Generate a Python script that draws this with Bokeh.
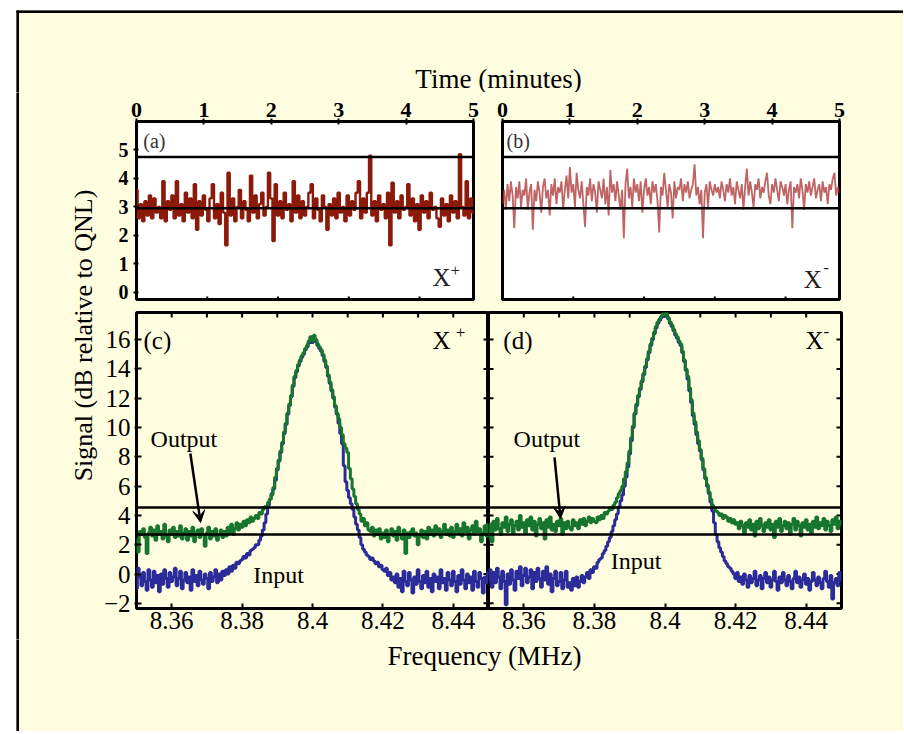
import numpy as np
from bokeh.plotting import figure
from bokeh.models import (LinearAxis, FixedTicker, Range1d, Arrow, VeeHead, Label,
                          Span, CustomJSTickFormatter)
from bokeh.layouts import row, column
from bokeh.embed import file_html
from bokeh.resources import INLINE

BG = "#FFFDDF"
FONT = "Liberation Serif"
RED_A = "#8C1A0A"
RED_B = "#B03C3C"
GREEN = "#17752E"
BLUE = "#2B2B99"

# ---------------- data ----------------
time_ticks = [0, 1, 2, 3, 4, 5]
time_minor_ticks = [0, 1.05, 2.1, 3.15, 4.2]
top_y_ticks = [0, 1, 2, 3, 4, 5]
top_levels = [2.95, 4.75]

sig_a = [3.6, 2.6, 3.1, 2.5, 3.2, 2.7, 3.4, 2.6, 3.3, 2.8,
         3.0, 2.6, 3.9, 2.5, 3.2, 2.9, 3.4, 2.6, 3.9, 2.7,
         3.1, 2.5, 3.5, 2.8, 3.3, 2.6, 3.8, 2.2, 3.2, 2.7,
         3.4, 2.9, 2.5, 3.3, 3.8, 2.6, 3.1, 2.4, 3.5, 2.8,
         1.65, 4.2, 2.7, 3.3, 2.5, 3.0, 3.6, 2.6, 3.2, 2.9,
         2.5, 4.1, 2.8, 3.4, 2.6, 3.1, 3.5, 2.7, 3.0, 4.2,
         3.3, 1.8, 3.8, 2.7, 3.2, 2.6, 3.5, 2.9, 3.1, 2.5,
         3.9, 2.8, 3.4, 2.6, 3.2, 2.7, 3.0, 3.5, 3.8, 2.6,
         3.3, 2.9, 2.5, 3.4, 3.0, 2.2, 3.1, 2.7, 3.3, 2.6,
         3.5, 2.8, 3.0, 2.5, 3.4, 2.7, 3.2, 2.9, 3.5, 3.9,
         2.6, 3.3, 2.8, 3.5, 4.8, 2.7, 3.2, 2.5, 3.4, 2.9,
         3.1, 2.6, 3.5, 1.65, 3.85, 2.8, 3.2, 2.6, 3.4, 2.9,
         3.0, 3.8, 2.7, 3.3, 2.5, 3.1, 2.2, 3.4, 2.8, 3.2,
         2.6, 3.5, 2.9, 3.0, 2.6, 2.3, 3.3, 2.7, 3.1, 2.5,
         3.4, 2.8, 3.2, 2.6, 4.85, 3.0, 2.7, 3.9, 2.6, 3.3,
         2.8]

sig_b = [3.1, 3.6, 2.9, 3.8, 3.2, 3.9, 3.4, 2.25, 3.7, 3.3,
         3.9, 3.0, 3.6, 3.4, 4.0, 2.9, 3.5, 3.8, 2.2, 3.6,
         3.2, 3.9, 3.5, 2.8, 3.7, 4.0, 3.3, 3.6, 2.7, 3.8,
         3.4, 4.0, 3.1, 3.7, 3.5, 3.9, 2.9, 3.6, 4.1, 3.3,
         4.4, 3.5, 3.8, 3.0, 4.2, 3.6, 3.3, 3.9, 3.1, 2.3,
         3.7, 3.4, 4.0, 3.2, 3.8, 3.5, 2.8, 3.9, 3.6, 3.3,
         4.0, 3.1, 3.7, 2.7, 4.3, 3.5, 3.8, 3.2, 3.9, 3.4,
         2.9, 3.6, 1.9, 3.8, 4.35, 3.3, 3.7, 3.0, 4.0, 3.5,
         3.8, 3.2, 3.9, 2.8, 3.6, 4.0, 3.4, 3.7, 3.1, 3.9,
         3.5, 3.8, 3.2, 2.1, 3.7, 3.4, 4.2, 3.6, 3.0, 3.8,
         3.5, 2.6, 3.9, 3.3, 3.7, 3.6, 4.0, 3.2, 3.8, 3.5,
         3.9, 3.3, 3.6, 3.8, 4.5, 3.4, 3.7, 3.1, 3.6, 1.9,
         3.5, 3.8, 3.0, 3.9, 3.6, 3.4, 3.8, 3.5, 3.7, 3.3,
         3.9, 3.6, 3.2, 3.8, 3.5, 4.0, 3.4, 3.7, 3.1, 3.9,
         3.6, 3.3, 3.8, 2.9, 3.7, 4.35, 3.4, 3.9, 3.5, 3.0,
         3.8, 3.6, 4.0, 3.3, 3.7, 3.5, 3.9, 4.2, 3.4, 3.1,
         3.8, 3.5, 4.0, 3.6, 3.2, 3.9, 3.7, 3.4, 3.8, 3.1,
         3.6, 3.9, 2.25, 3.7, 3.5, 3.8, 3.3, 4.0, 3.6, 2.9,
         3.8, 3.5, 3.9, 3.4, 3.7, 4.0, 3.3, 3.6, 3.8, 3.2,
         3.9, 3.5, 3.7, 3.1, 3.8, 3.6, 4.0, 4.2, 3.4, 3.7,
         3.5]

freq_ticks = [8.36, 8.38, 8.4, 8.42, 8.44]
freq_minor_ticks = [8.35, 8.36, 8.37, 8.38, 8.39, 8.40, 8.41, 8.42, 8.43, 8.44, 8.45]
bottom_y_ticks = [-2, 0, 2, 4, 6, 8, 10, 12, 14, 16]
bottom_levels = [2.7, 4.55]

out_c = [2.4, 1.5, 2.9, 2.7, 3.1, 2.5, 1.4, 2.8, 3.2, 2.6,
         3.0, 2.3, 3.3, 2.7, 2.9, 2.4, 3.4, 2.6, 2.2, 3.0,
         2.7, 3.2, 2.5, 2.9, 2.6, 3.3, 2.4, 2.8, 3.1, 2.3,
         2.9, 2.6, 3.2, 2.2, 2.8, 3.0, 2.5, 3.1, 2.7, 1.9,
         2.8, 3.2, 2.4, 2.9, 2.6, 3.1, 2.3, 2.7, 3.0, 2.5,
         2.9, 2.6, 3.2, 2.8, 3.4, 2.7, 3.1, 3.5, 3.0, 3.4,
         3.2, 3.6, 3.3, 3.7, 3.5, 3.9, 3.6, 3.8, 4.0, 3.8,
         4.2, 4.1, 4.4, 4.6, 4.5, 4.9, 5.1, 5.4, 5.9, 6.6,
         7.2, 7.8, 8.4, 9.0, 9.7, 10.3, 11.0, 11.6, 12.2, 12.9,
         13.5, 13.9, 14.3, 14.6, 14.9, 15.1, 15.4, 15.6, 15.9, 16.2,
         15.9, 16.3, 16.0, 15.7, 15.5, 15.3, 15.0, 14.6, 14.2, 13.6,
         13.1, 12.6, 12.1, 11.5, 11.0, 10.6, 10.0, 9.5, 8.9, 8.6,
         8.3, 7.2, 6.5, 5.8, 5.3, 4.8, 4.4, 4.1, 3.6, 3.8,
         3.3, 3.5, 3.0, 2.9, 3.2, 2.6, 3.0, 2.7, 3.1, 2.4,
         2.8, 2.5, 3.0, 2.2, 2.7, 3.1, 2.6, 2.9, 2.3, 3.2,
         2.7, 2.4, 3.0, 1.4, 2.8, 2.5, 2.9, 3.1, 2.6, 2.8,
         2.0, 2.6, 3.0, 2.5, 2.9, 2.4, 3.2, 2.7, 3.0, 2.6,
         3.3, 2.8, 3.1, 2.5, 2.9, 3.4, 2.7, 3.0, 2.6, 3.2,
         2.5, 2.9, 3.4, 2.8, 3.1, 2.6, 3.5, 2.9, 3.2, 2.4,
         3.0, 3.3, 2.7, 3.6, 2.9, 3.1, 2.2, 2.8, 3.3, 2.6,
         3.4]

in_c = [-1.0, 0.4, -0.2, -0.8, 0.1, -0.5, -1.1, 0.3, -0.4, -0.9,
        0.2, -0.6, -0.1, -1.2, 0.0, -0.7, 0.3, -0.3, -0.9, 0.1,
        -0.5, -0.2, 0.4, -0.8, -0.3, 0.2, -1.0, -0.4, 0.1, -0.6,
        -0.2, -1.1, 0.3, -0.5, -0.1, -0.8, 0.2, -0.4, -0.7, 0.0,
        -0.3, -1.0, 0.1, -0.5, -0.2, 0.3, -0.6, 0.0, -0.4, 0.2,
        -0.1, 0.3, 0.0, 0.5, 0.2, 0.6, 0.4, 0.8, 0.7, 0.9,
        1.0, 1.2, 1.1, 1.4, 1.3, 1.6, 1.7, 1.8, 2.0, 2.0,
        2.3, 2.6, 3.0, 3.5, 4.1, 4.7, 5.1, 5.5, 5.8, 6.4,
        7.1, 7.7, 8.3, 8.9, 9.6, 10.2, 10.9, 11.5, 12.1, 12.8,
        13.4, 13.8, 14.2, 14.5, 14.8, 15.0, 15.3, 15.5, 15.8, 16.0,
        15.8, 16.1, 15.9, 15.6, 15.4, 15.2, 14.9, 14.5, 14.1, 13.5,
        13.0, 12.5, 12.0, 11.4, 10.9, 10.3, 9.6, 8.9, 7.4, 6.3,
        5.7, 5.2, 4.8, 4.4, 3.9, 3.4, 3.0, 2.5, 2.0, 1.7,
        1.5, 1.3, 1.2, 1.0, 1.1, 0.9, 0.7, 0.8, 0.5, 0.6,
        0.3, 0.2, 0.4, -0.1, 0.1, -0.4, -0.2, -0.6, 0.0, -0.9,
        -0.3, -1.2, 0.2, -0.5, -0.8, 0.1, -0.4, -1.3, -0.2, -0.7,
        0.3, -0.5, -1.0, -0.1, -0.6, 0.2, -0.9, -0.3, -1.2, 0.0,
        -0.5, -0.2, -1.0, 0.3, -0.6, -0.3, -1.1, 0.1, -0.4, -0.8,
        0.2, -0.5, -1.2, -0.1, -0.7, 0.3, -0.4, -1.0, 0.0, -0.6,
        -0.2, -1.1, 0.2, -0.5, -0.9, 0.1, -0.3, -1.3, -0.2, -0.6,
        0.1]

out_d = [2.5, 3.4, 2.2, 3.6, 3.0, 3.8, 3.1, 2.7, 3.5, 3.2,
         3.9, 2.9, 3.4, 3.7, 2.8, 3.3, 3.6, 3.0, 4.0, 3.2,
         3.5, 2.8, 3.7, 3.3, 3.9, 3.0, 3.6, 2.6, 3.4, 3.8,
         3.1, 3.5, 2.4, 3.7, 3.2, 3.9, 3.0, 3.4, 2.9, 3.6,
         3.3, 3.8, 2.7, 3.5, 3.1, 3.6, 3.2, 3.0, 3.7, 3.3,
         3.5, 3.1, 3.7, 3.4, 3.8, 3.3, 3.6, 3.9, 3.5, 3.8,
         3.6, 3.5, 3.9, 3.7, 4.0, 3.8, 4.2, 4.1, 4.3, 4.5,
         4.4, 4.7, 4.9, 5.2, 5.5, 5.7, 6.0, 6.5, 7.0, 7.6,
         8.4, 9.3, 10.1, 11.0, 11.6, 12.2, 12.7, 13.2, 13.7, 14.2,
         14.7, 15.2, 15.7, 16.1, 16.5, 16.9, 17.2, 17.4, 17.6, 17.8,
         17.7, 17.8, 17.5, 17.2, 17.0, 16.7, 16.4, 16.2, 15.9, 15.7,
         15.2, 14.6, 14.0, 13.5, 12.7, 11.9, 11.0, 10.4, 9.7, 9.1,
         8.5, 7.9, 7.2, 6.6, 6.1, 5.6, 5.1, 4.7, 4.5, 4.3,
         4.2, 4.0, 4.1, 3.8, 4.0, 3.9, 3.6, 3.8, 3.5, 3.7,
         3.4, 3.5, 3.1, 3.6, 3.3, 2.8, 3.5, 3.2, 3.7, 3.0,
         3.4, 2.6, 3.6, 3.1, 3.8, 3.3, 2.9, 3.5, 3.2, 3.7,
         3.0, 3.4, 2.5, 3.6, 3.2, 3.8, 2.9, 3.3, 3.6, 3.1,
         3.5, 2.7, 3.4, 3.8, 3.0, 3.6, 3.3, 2.6, 3.5, 3.2,
         3.7, 3.0, 3.4, 2.8, 3.6, 3.2, 3.9, 3.1, 3.5, 3.3,
         3.8, 3.0, 3.6, 3.3, 2.9, 3.7, 3.4, 3.9, 3.1, 3.6,
         3.4]

in_d = [-0.4, 0.3, -0.9, 0.1, -0.6, 0.4, -0.2, -1.0, 0.2, -0.5,
        -2.1, 0.0, -0.7, 0.3, -0.4, -1.1, 0.2, -0.3, 0.5, -0.8,
        -0.1, 0.4, -0.6, -0.2, 0.3, -1.0, 0.1, -0.5, 0.4, -0.3,
        -0.9, 0.2, -0.4, 0.5, -0.7, 0.0, -1.2, -0.3, 0.2, -0.8,
        -0.5, 0.1, -1.0, -0.4, 0.2, -0.9, -0.6, -1.1, -0.3, -0.8,
        -0.2, -0.9, -0.5, -0.1, -0.6, -0.2, 0.1, -0.3, 0.3, 0.1,
        0.5, 0.4, 0.8, 1.0, 1.1, 1.4, 1.6, 1.9, 2.2, 2.5,
        2.9, 3.3, 3.7, 4.1, 4.6, 5.0, 5.4, 6.0, 6.6, 7.3,
        8.2, 9.1, 10.0, 10.9, 11.5, 12.1, 12.6, 13.1, 13.6, 14.1,
        14.6, 15.1, 15.6, 16.0, 16.4, 16.8, 17.1, 17.3, 17.5, 17.7,
        17.6, 17.7, 17.4, 17.1, 16.9, 16.6, 16.3, 16.1, 15.8, 15.6,
        15.1, 14.5, 13.9, 13.3, 12.5, 11.7, 10.8, 10.2, 9.5, 8.9,
        8.4, 7.8, 7.1, 6.5, 6.0, 5.5, 4.9, 4.3, 3.5, 2.7,
        2.2, 1.8, 1.5, 1.2, 0.9, 0.7, 0.5, 0.4, 0.2, 0.0,
        -0.3, 0.1, -0.5, -0.2, -0.7, 0.0, -0.4, -0.9, -0.1, -0.6,
        -0.3, 0.2, -0.8, -0.4, -0.1, -1.0, -0.3, 0.1, -0.6, -0.2,
        -0.9, -0.4, 0.2, -0.5, -1.1, -0.2, -0.6, 0.1, -0.4, -0.8,
        -0.1, -0.5, -1.0, -0.3, 0.2, -0.6, -0.2, -0.9, -0.4, 0.0,
        -0.7, -0.3, -1.1, -0.5, 0.1, -0.4, -0.8, -0.2, -0.6, -1.0,
        -0.3, 0.2, -0.5, -0.9, -0.1, -1.7, -0.6, -0.3, -0.8, 0.1,
        -0.4]

t_a = np.linspace(0, 5, len(sig_a))
t_b = np.linspace(0, 5, len(sig_b))
freq = np.linspace(8.35, 8.45, len(out_c))

TOP_X = (0, 5)
TOP_Y = (-0.25, 6.0)
BOT_X = (8.35, 8.45)
BOT_Y = (-2.35, 17.85)


# ---------------- helpers ----------------
def make_fig(w, h, xr, yr, mbl, mbr, mbt, mbb, frame_bg):
    p = figure(width=w, height=h, x_range=Range1d(*xr), y_range=Range1d(*yr),
               output_backend="svg", toolbar_location=None,
               x_axis_location=None, y_axis_location=None,
               min_border_left=mbl, min_border_right=mbr,
               min_border_top=mbt, min_border_bottom=mbb,
               background_fill_color=frame_bg, border_fill_color=BG,
               outline_line_color="black", outline_line_width=3)
    p.grid.visible = False
    return p


def add_axis(p, side, ticks, size="24px", bold=False,
             tin=5, tout=0, standoff=4, formatter=None):
    ax = LinearAxis(ticker=FixedTicker(ticks=ticks))
    ax.major_tick_in = tin
    ax.major_tick_out = tout
    ax.minor_tick_in = 0
    ax.minor_tick_out = 0
    ax.axis_line_color = None
    ax.major_tick_line_color = "black"
    ax.major_tick_line_width = 2
    if formatter is not None:
        ax.formatter = formatter
    ax.major_label_text_font = FONT
    ax.major_label_text_font_size = size
    ax.major_label_text_font_style = "bold" if bold else "normal"
    ax.major_label_standoff = standoff
    ax.major_label_text_color = "black"
    p.add_layout(ax, side)
    return ax


def edge_ticks(p, side, ticks, length):
    """Unlabelled tick marks along one edge of the frame (inside the frame)."""
    n = len(ticks)
    if side in ("above", "below"):
        yv = p.y_range.end if side == "above" else p.y_range.start
        p.scatter(x=ticks, y=[yv] * n, marker="dash", angle=np.pi / 2,
                  size=2 * length, line_color="black", line_width=2)
    else:
        xv = p.x_range.end if side == "right" else p.x_range.start
        p.scatter(x=[xv] * n, y=ticks, marker="dash",
                  size=2 * length, line_color="black", line_width=2)


def label(p, x, y, text, size, align="left", baseline="middle",
          color="black", style="normal", angle=0.0):
    p.add_layout(Label(x=x, y=y, text=text, text_font=FONT,
                       text_font_size=size, text_align=align,
                       text_baseline=baseline, text_color=color,
                       text_font_style=style, angle=angle))


def blank(w, h):
    p = figure(width=w, height=h, x_range=Range1d(0, w), y_range=Range1d(0, h),
               output_backend="svg", toolbar_location=None,
               x_axis_location=None, y_axis_location=None,
               min_border=0, min_border_left=0, min_border_right=0,
               min_border_top=0, min_border_bottom=0,
               background_fill_color=BG, border_fill_color=BG,
               outline_line_color=None)
    p.grid.visible = False
    return p


freq_fmt = CustomJSTickFormatter(code="return tick.toFixed(2).replace(/0$/, '');")
BGSTYLE = {"background-color": BG}

# ---------------- panel (a) ----------------
pA = make_fig(388, 214, TOP_X, TOP_Y, 36, 15, 29, 7, "white")
add_axis(pA, "above", time_ticks, size="22px", bold=True, tin=3, tout=3, standoff=2)
add_axis(pA, "left", top_y_ticks, size="20px", bold=True, tin=2, tout=3, standoff=5)
edge_ticks(pA, "below", time_minor_ticks, 3)
pA.step(t_a, sig_a, mode="center", line_color=RED_A, line_width=2.4)
for lv in top_levels:
    pA.add_layout(Span(location=lv, dimension="width", line_color="black", line_width=2.5))
label(pA, 0.1, 5.33, "(a)", "20px", color="#333333")
label(pA, 4.39, 0.52, "X", "25px", color="#222222")
label(pA, 4.66, 0.78, "+", "17px", color="#222222")

# ---------------- panel (b) ----------------
pB = make_fig(415, 214, TOP_X, TOP_Y, 14, 64, 29, 7, "white")
add_axis(pB, "above", time_ticks, size="22px", bold=True, tin=3, tout=3, standoff=2)
edge_ticks(pB, "below", time_minor_ticks, 3)
pB.line(t_b, sig_b, line_color=RED_B, line_width=1.8, line_alpha=0.8)
for lv in top_levels:
    pB.add_layout(Span(location=lv, dimension="width", line_color="black", line_width=2.5))
label(pB, 0.06, 5.33, "(b)", "20px", color="#333333")
label(pB, 4.47, 0.45, "X", "25px", color="#222222")
label(pB, 4.76, 0.86, "-", "17px", color="#222222")

# ---------------- panel (c) ----------------
pC = make_fig(388, 333, BOT_X, BOT_Y, 36, 0, 6, 31, BG)
add_axis(pC, "left", bottom_y_ticks, size="25px", tin=5, tout=2, standoff=4)
add_axis(pC, "below", freq_ticks, size="25px", tin=5, tout=0, standoff=3, formatter=freq_fmt)
edge_ticks(pC, "right", bottom_y_ticks, 5)
edge_ticks(pC, "above", freq_minor_ticks, 5)
for lv in bottom_levels:
    pC.add_layout(Span(location=lv, dimension="width", line_color="black", line_width=2.5))
pC.step(freq, in_c, mode="center", line_color=BLUE, line_width=3)
pC.step(freq, out_c, mode="center", line_color=GREEN, line_width=3)
label(pC, 8.352, 15.94, "(c)", "25px")
label(pC, 8.4341, 15.94, "X", "25px")
label(pC, 8.4407, 16.5, "+", "17px")
label(pC, 8.354, 9.25, "Output", "24px")
label(pC, 8.3832, -0.09, "Input", "24px")
pC.add_layout(Arrow(end=VeeHead(size=12, fill_color="black", line_color="black", line_width=1),
                    x_start=8.3653, y_start=8.23, x_end=8.3682, y_end=3.52,
                    line_color="black", line_width=2.5))

# ---------------- panel (d) ----------------
pD = make_fig(415, 333, BOT_X, BOT_Y, 0, 62, 6, 31, BG)
add_axis(pD, "below", freq_ticks, size="25px", tin=5, tout=0, standoff=3, formatter=freq_fmt)
edge_ticks(pD, "left", bottom_y_ticks, 5)
edge_ticks(pD, "right", bottom_y_ticks, 5)
edge_ticks(pD, "above", freq_minor_ticks, 5)
for lv in bottom_levels:
    pD.add_layout(Span(location=lv, dimension="width", line_color="black", line_width=2.5))
pD.step(freq, in_d, mode="center", line_color=BLUE, line_width=3)
pD.step(freq, out_d, mode="center", line_color=GREEN, line_width=3)
label(pD, 8.3542, 15.94, "(d)", "25px")
label(pD, 8.4398, 15.94, "X", "25px")
label(pD, 8.4449, 16.55, "-", "17px")
label(pD, 8.3571, 9.25, "Output", "24px")
label(pD, 8.3846, 0.87, "Input", "24px")
pD.add_layout(Arrow(end=VeeHead(size=12, fill_color="black", line_color="black", line_width=1),
                    x_start=8.3687, y_start=7.96, x_end=8.3704, y_end=3.79,
                    line_color="black", line_width=2.5))

# ---------------- header, strip, footer ----------------
header = blank(887, 82)
header.quad(left=[0, 0], right=[887, 2], bottom=[80, 0], top=[82, 82], color="black")
label(header, 482, 14, "Time (minutes)", "27px", align="center", baseline="alphabetic")

strip = blank(84, 547)
strip.quad(left=[0], right=[2], bottom=[0], top=[547], color="black")
label(strip, 67, 304, "Signal (dB relative to QNL)", "26px", align="center",
      baseline="middle", angle=np.pi / 2)

footer = blank(887, 92)
footer.quad(left=[0], right=[2], bottom=[0], top=[92], color="black")
label(footer, 468, 76, "Frequency (MHz)", "27px", align="center", baseline="alphabetic")

top_row = row(pA, pB, styles=BGSTYLE)
bot_row = row(pC, pD, styles=BGSTYLE)
panels = column(top_row, bot_row, styles=BGSTYLE)
middle = row(strip, panels, styles=BGSTYLE)
layout = column(header, middle, footer, styles=BGSTYLE)
layout.margin = (10, 0, 0, 16)

open("out.html", "w").write(file_html(layout, INLINE))
